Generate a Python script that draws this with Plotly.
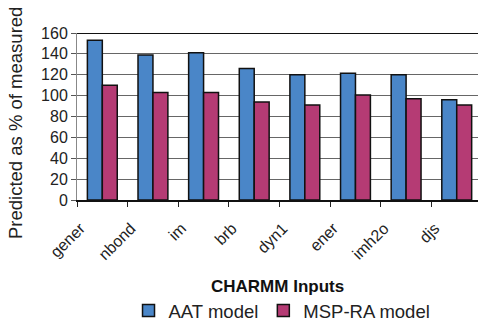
import plotly.graph_objects as go

categories = ["gener", "nbond", "im", "brb", "dyn1", "ener", "imh2o", "djs"]
aat_model = [153, 139, 141, 126, 120, 121.5, 120, 96]
msp_ra_model = [110, 103, 103, 94, 91, 100.5, 97, 91]
y_ticks = [0, 20, 40, 60, 80, 100, 120, 140, 160]

FONT = "Liberation Sans, Arial, sans-serif"

fig = go.Figure()
fig.add_trace(go.Bar(
    name="AAT model", x=categories, y=aat_model,
    marker=dict(color="#4A86C8", line=dict(color="#111111", width=1.5)),
))
fig.add_trace(go.Bar(
    name="MSP-RA model", x=categories, y=msp_ra_model,
    marker=dict(color="#B53B74", line=dict(color="#111111", width=1.5)),
))

fig.update_layout(
    width=478, height=324,
    margin=dict(l=77, r=0, t=33, b=124, autoexpand=False),
    paper_bgcolor="white", plot_bgcolor="white",
    barmode="group", bargap=0.41, bargroupgap=0,
    font=dict(family=FONT, color="#222222"),
    showlegend=True,
    legend=dict(
        orientation="h", xref="container", yref="container",
        x=0.59, y=0.04, xanchor="center", yanchor="middle",
        font=dict(size=18.5, family=FONT, color="#222222"),
        itemwidth=30, traceorder="normal",
    ),
    xaxis=dict(
        type="category", range=[-0.5, 7.42], automargin=False,
        tickson="boundaries", ticks="outside", ticklen=5, tickcolor="#222222",
        tickangle=-45, tickfont=dict(size=16, family=FONT, color="#222222"),
        ticklabelshift=-22, ticklabelstandoff=11,
        showline=True, linecolor="#111111", linewidth=1.5,
        showgrid=False,
    ),
    yaxis=dict(
        range=[0, 160], tickvals=y_ticks, automargin=False,
        ticks="outside", ticklen=5, tickcolor="#555555",
        tickfont=dict(size=16, family=FONT, color="#222222"),
        showline=True, linecolor="#888888", linewidth=1,
        showgrid=True, gridcolor="#666666", gridwidth=1,
        zeroline=False,
    ),
)

# Dark border along the top of the plot area
fig.add_shape(type="line", xref="paper", yref="y", x0=0, x1=1, y0=160, y1=160,
              line=dict(color="#111111", width=2))

fig.add_annotation(
    text="Predicted as % of measured", textangle=-90,
    xref="paper", yref="paper", x=-0.155, y=0.46,
    xanchor="center", yanchor="middle", showarrow=False,
    font=dict(size=18.5, family=FONT, color="#222222"),
)
fig.add_annotation(
    text="<b>CHARMM Inputs</b>",
    xref="paper", yref="paper", x=0.501, y=-0.52,
    xanchor="center", yanchor="middle", showarrow=False,
    font=dict(size=17, family=FONT, color="#111111"),
)

fig.write_html("out.html")
